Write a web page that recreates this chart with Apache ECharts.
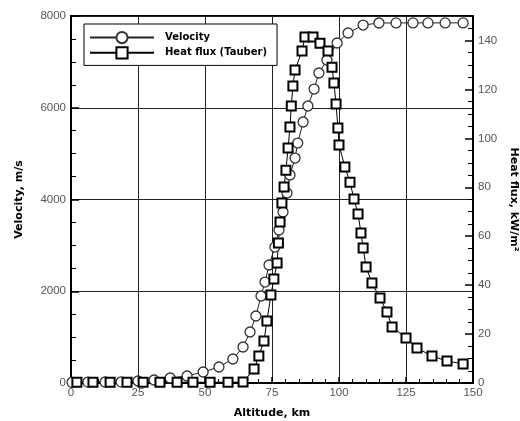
<!DOCTYPE html>
<html lang="en">
<head>
    <meta charset="UTF-8">
    <title>Velocity and heat flux vs altitude</title>
    <script src="https://cdn.jsdelivr.net/npm/echarts@6/dist/echarts.min.js"></script>
    <style>
        html, body { margin: 0; padding: 0; background: #fff; }
    </style>
</head>
<body>
  <div id="main" style="width: 520px; height: 421px;"></div>
  <script type="text/javascript">
    // altitude (km) and velocity (m/s)
    var velAlt = [0.4, 6.3, 12.7, 18.7, 25, 31, 37, 43.3, 49.3, 55.2, 60.4, 64.2, 66.8, 69.0, 70.9, 72.4, 73.9,
                  76.1, 77.6, 79.1, 80.6, 81.7, 83.6, 84.6, 86.6, 88.4, 90.7, 92.5, 95.5, 99.3, 103.4, 109.0,
                  114.9, 121.3, 127.6, 133.2, 139.6, 146.3];
    var velocity = [15, 20, 22, 25, 44, 65, 109, 153, 240, 349, 523, 785, 1112, 1460, 1896, 2201, 2572,
                    2964, 3335, 3727, 4141, 4534, 4904, 5231, 5689, 6038, 6408, 6757, 7040, 7411, 7629, 7803,
                    7847, 7850, 7850, 7850, 7850, 7850];

    // altitude (km) and heat flux (kW/m2), Tauber correlation
    var heatAlt = [2.2, 8.2, 14.6, 20.9, 26.9, 33.2, 39.6, 45.5, 51.9, 58.6, 64.2, 68.3, 70.1, 72.0, 73.1,
                   74.6, 75.7, 76.9, 77.4, 78.0, 78.7, 79.5, 80.2, 81.0, 81.7, 82.2, 82.8, 83.6, 86.2, 87.3,
                   90.3, 92.9, 95.9, 97.4, 98.1, 98.9, 99.6, 100.0, 102.2, 104.1, 105.6, 107.1, 108.2, 109.0,
                   110.1, 112.3, 115.3, 117.9, 119.8, 125.0, 129.1, 134.7, 140.3, 146.3];
    var heatFlux = [0.3, 0.3, 0.3, 0.3, 0.3, 0.3, 0.3, 0.3, 0.3, 0.3, 0.4, 5.7, 11.0, 17.2, 25.3,
                    36.0, 42.5, 49.0, 57.2, 65.8, 73.6, 80.1, 87.0, 96.0, 104.6, 113.2, 121.4, 127.9, 135.7, 141.4,
                    141.4, 138.9, 135.7, 129.1, 122.6, 114.0, 104.2, 97.3, 88.3, 82.1, 75.2, 69.1, 61.3, 55.2,
                    47.4, 40.9, 34.7, 29.0, 22.9, 18.4, 14.3, 11.0, 9.0, 7.8];

    var altTicks = [0, 150, 25];
    var velTicks = [0, 8000, 2000];
    var heatTicks = [0, 150, 20];

    function pairs(xs, ys) {
        return xs.map(function (x, i) { return [x, ys[i]]; });
    }
    function plain(v) { return String(v); }

    var labelFont = { color: '#555', fontFamily: 'Liberation Sans', fontSize: 11.5, formatter: plain };
    var nameFont = { color: '#000', fontFamily: 'DejaVu Sans', fontWeight: 'bold', fontSize: 11 };

    var myChart = echarts.init(document.getElementById('main'));
    var option = {
        animation: false,
        backgroundColor: '#fff',
        grid: {
            left: 71, right: 47, top: 16, bottom: 38,
            outerBoundsMode: 'none',
            containLabel: false,
            show: true, borderColor: '#000', borderWidth: 2
        },
        legend: {
            orient: 'vertical',
            left: 84, top: 24,
            backgroundColor: '#fff',
            borderColor: '#000',
            borderWidth: 1,
            padding: [7, 10, 6, 5],
            itemWidth: 64,
            itemHeight: 14,
            itemGap: 2,
            textStyle: { color: '#000', fontFamily: 'DejaVu Sans', fontWeight: 'bold', fontSize: 10, padding: [0, 0, 0, 6] },
            data: ['Velocity', 'Heat flux (Tauber)']
        },
        xAxis: {
            type: 'value',
            min: altTicks[0], max: altTicks[1], interval: altTicks[2],
            name: 'Altitude, km',
            nameLocation: 'middle',
            nameGap: 25,
            nameTextStyle: nameFont,
            axisLine: { lineStyle: { color: '#000', width: 2 } },
            axisTick: { inside: true, length: 6, lineStyle: { color: '#000', width: 1.5 } },
            minorTick: { show: true, splitNumber: 5, length: 4, lineStyle: { color: '#000', width: 1 } },
            axisLabel: Object.assign({ margin: 4 }, labelFont),
            splitLine: { show: true, lineStyle: { color: '#222', width: 1 } }
        },
        yAxis: [{
            type: 'value',
            min: velTicks[0], max: velTicks[1], interval: velTicks[2],
            name: 'Velocity, m/s',
            nameLocation: 'middle',
            nameGap: 46,
            nameTextStyle: nameFont,
            axisLine: { show: true, lineStyle: { color: '#000', width: 2 } },
            axisTick: { show: true, inside: true, length: 8, lineStyle: { color: '#000', width: 1.5 } },
            minorTick: { show: true, splitNumber: 4, length: 5, lineStyle: { color: '#000', width: 1 } },
            axisLabel: Object.assign({ margin: 5 }, labelFont),
            splitLine: { show: true, lineStyle: { color: '#222', width: 1 } }
        }, {
            type: 'value',
            position: 'right',
            min: heatTicks[0], max: heatTicks[1], interval: heatTicks[2],
            name: 'Heat flux, kW/m\u00b2',
            nameLocation: 'middle',
            nameRotate: -90,
            nameGap: 12,
            nameTextStyle: nameFont,
            axisLine: { show: true, lineStyle: { color: '#000', width: 2 } },
            axisTick: { show: true, inside: true, length: 8, lineStyle: { color: '#000', width: 1.5 } },
            minorTick: { show: true, splitNumber: 4, length: 5, lineStyle: { color: '#000', width: 1 } },
            axisLabel: Object.assign({ margin: 5, showMaxLabel: false }, labelFont),
            splitLine: { show: false }
        }],
        series: [{
            name: 'Velocity',
            type: 'line',
            yAxisIndex: 0,
            data: pairs(velAlt, velocity),
            symbol: 'circle',
            symbolSize: 10,
            showAllSymbol: true,
            lineStyle: { color: '#222', width: 1 },
            itemStyle: { color: '#fff', borderColor: '#333', borderWidth: 1.3 }
        }, {
            name: 'Heat flux (Tauber)',
            type: 'line',
            yAxisIndex: 1,
            data: pairs(heatAlt, heatFlux),
            symbol: 'rect',
            symbolSize: 9,
            showAllSymbol: true,
            lineStyle: { color: '#000', width: 1 },
            itemStyle: { color: '#fff', borderColor: '#000', borderWidth: 2 }
        }]
    };
    myChart.setOption(option);
  </script>
</body>
</html>
